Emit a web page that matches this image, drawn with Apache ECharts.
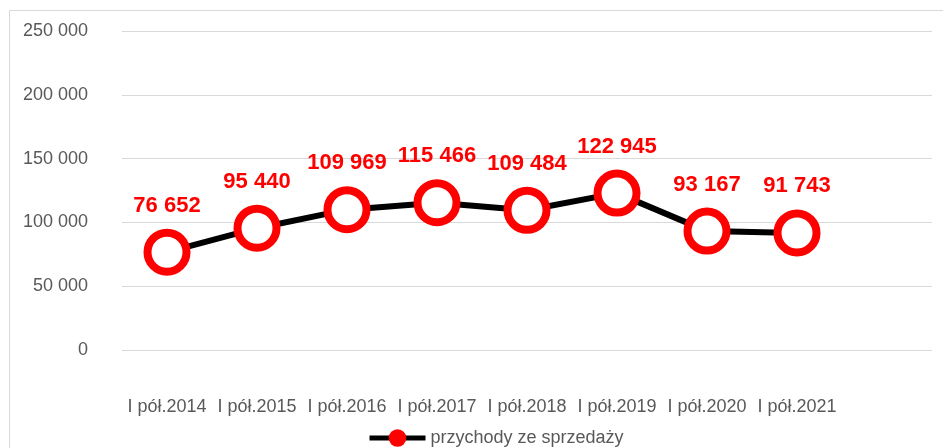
<!DOCTYPE html>
<html>
<head>
<meta charset="utf-8">
<script src="https://cdn.jsdelivr.net/npm/echarts@6/dist/echarts.min.js"></script>
<style>
  html, body { margin: 0; padding: 0; background: #fff; }
  #chart { width: 943px; height: 448px; }
</style>
</head>
<body>
<div id="chart"></div>
<script>
// półroczne przychody, ostatnia kategoria pusta (Excel zostawia miejsce na osi)
const categories = ["I pół.2014", "I pół.2015", "I pół.2016", "I pół.2017", "I pół.2018", "I pół.2019", "I pół.2020", "I pół.2021", ""];
const revenue = [76652, 95440, 109969, 115466, 109484, 122945, 93167, 91743, null];
const seriesName = "przychody ze sprzedaży";

const fmt = (v) => String(v).replace(/\B(?=(\d{3})+(?!\d))/g, " ");
const font = "'Liberation Sans', Arial, sans-serif";

const chart = echarts.init(document.getElementById("chart"));
const option = {
  animation: false,
  textStyle: { fontFamily: font },
  graphic: [
    {
      type: "rect",
      silent: true,
      shape: { x: 9.5, y: 10.5, width: 1000, height: 1000 },
      style: { fill: "none", stroke: "#d9d9d9", lineWidth: 1 },
    },
  ],
  grid: { left: 122, right: 11, top: 31, bottom: 98 },
  legend: {
    left: 362,
    top: 424,
    itemWidth: 56,
    itemHeight: 22,
    itemGap: 5,
    data: [seriesName],
    textStyle: { fontSize: 18, color: "#595959", fontFamily: font },
    itemStyle: { color: "#ff0000", borderColor: "#ff0000", borderWidth: 0 },
    lineStyle: { color: "#000", width: 5 },
  },
  xAxis: {
    type: "category",
    data: categories,
    boundaryGap: true,
    axisLine: { show: false },
    axisTick: { show: false },
    axisLabel: { color: "#595959", fontSize: 18, margin: 48, fontFamily: font, interval: 0 },
  },
  yAxis: {
    type: "value",
    min: 0,
    max: 250000,
    interval: 50000,
    axisLine: { show: false },
    axisTick: { show: false },
    splitLine: { lineStyle: { color: "#d9d9d9", width: 1 } },
    axisLabel: { color: "#595959", fontSize: 18, margin: 34, fontFamily: font, formatter: fmt },
  },
  series: [
    {
      name: seriesName,
      type: "line",
      data: revenue,
      symbol: "circle",
      symbolSize: 39,
      lineStyle: { color: "#000", width: 6 },
      itemStyle: { color: "#fff", borderColor: "#ff0000", borderWidth: 8 },
      label: {
        show: true,
        position: "top",
        distance: 12,
        color: "#ff0000",
        fontWeight: "bold",
        fontSize: 22,
        fontFamily: font,
        formatter: (p) => fmt(p.value),
      },
    },
  ],
};
chart.setOption(option);
window.addEventListener("resize", () => chart.resize());
</script>
</body>
</html>
